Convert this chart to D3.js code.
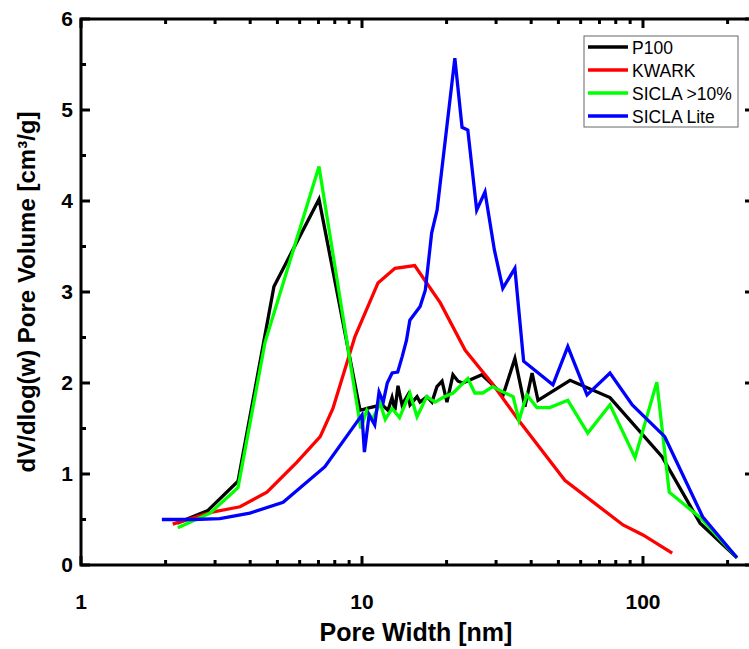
<!DOCTYPE html>
<html lang="en">
<head>
<meta charset="UTF-8">
<title>Pore size distribution</title>
<style>
  body { margin: 0; background: #fff; overflow: hidden; }
  svg { display: block; font-family: "Liberation Sans", Arial, sans-serif; }
</style>
</head>
<body>
<script src="https://d3js.org/d3.v7.min.js"></script>
<script>
  const width = 749
  const height = 649

  const seriesNames = ["P100", "KWARK", "SICLA >10%", "SICLA Lite"]
  const seriesColors = ["#000000", "#ff0000", "#00ff00", "#0000ff"]

  // [pore width nm, dV/dlog(w)]
  const p100 = [
    [2.2, 0.46], [2.83, 0.60], [3.62, 0.92], [4.86, 3.06], [7.03, 4.02],
    [9.84, 1.70], [10.67, 1.73], [11.78, 1.76], [12.38, 1.70], [12.79, 1.84],
    [13.10, 1.70], [13.43, 1.97], [13.88, 1.76], [14.57, 1.87], [14.82, 1.76],
    [15.70, 1.85], [16.08, 1.79], [17.03, 1.85], [17.74, 1.79], [18.48, 1.96],
    [19.27, 2.02], [20.06, 1.79], [21.07, 2.09], [21.97, 2.02], [22.86, 2.00],
    [26.7, 2.09], [31.8, 1.87], [35.0, 2.27], [38.0, 1.74], [40.3, 2.11],
    [42.3, 1.81], [55.0, 2.03], [76.3, 1.84], [116.9, 1.19], [159.6, 0.46],
    [216, 0.08]
  ]
  const kwark = [
    [2.12, 0.45], [2.93, 0.58], [3.68, 0.64], [4.59, 0.80], [5.87, 1.13],
    [7.1, 1.41], [7.88, 1.72], [9.44, 2.51], [11.4, 3.10], [13.1, 3.26],
    [15.4, 3.29], [19.0, 2.88], [23.3, 2.36], [29.3, 1.98], [36.5, 1.57],
    [52.7, 0.93], [84.9, 0.44], [100, 0.33], [127, 0.13]
  ]
  const sicla10 = [
    [2.21, 0.41], [2.88, 0.57], [3.62, 0.85], [4.52, 2.45], [7.03, 4.38],
    [9.9, 1.50], [10.4, 1.70], [10.9, 1.60], [11.6, 1.78], [12.1, 1.60],
    [12.8, 1.72], [13.6, 1.62], [14.8, 1.89], [15.7, 1.63], [17.0, 1.85],
    [18.2, 1.79], [19.4, 1.84], [21.1, 1.89], [23.8, 2.05], [25.2, 1.89],
    [26.9, 1.89], [29.2, 1.96], [31.8, 1.90], [34.5, 1.85], [36.2, 1.59],
    [38.6, 1.87], [41.9, 1.73], [46.6, 1.73], [54.0, 1.81], [63.6, 1.45],
    [76.3, 1.76], [93.7, 1.18], [112, 2.01], [124, 0.80], [160, 0.52],
    [216, 0.08]
  ]
  const siclaLite = [
    [1.94, 0.50], [2.5, 0.50], [3.12, 0.51], [3.99, 0.57], [5.24, 0.69],
    [7.38, 1.08], [10.0, 1.65], [10.2, 1.24], [10.6, 1.65], [11.1, 1.54],
    [11.5, 1.90], [11.9, 1.79], [12.3, 2.00], [12.8, 2.11], [13.4, 2.12],
    [13.9, 2.29], [14.4, 2.47], [14.8, 2.69], [16.1, 2.84], [16.8, 3.02],
    [17.7, 3.65], [18.5, 3.90], [21.4, 5.57], [22.7, 4.81], [23.8, 4.78],
    [25.6, 3.90], [27.4, 4.10], [29.6, 3.46], [31.7, 3.04], [35.0, 3.26],
    [37.6, 2.24], [47.8, 1.98], [54.0, 2.40], [63.2, 1.87], [76.3, 2.11],
    [91.6, 1.76], [119.5, 1.41], [163, 0.53], [216, 0.08]
  ]
  const allSeries = [p100, kwark, sicla10, siclaLite]

  const xMajor = [1, 10, 100]
  const yMajor = [0, 1, 2, 3, 4, 5, 6]

  // plot frame runs a little past the right edge of the window
  const x0 = 81, x1 = 754
  const y0 = 565, y1 = 19
  const xMax = Math.pow(10, (x1 - x0) / 281)

  const x = d3.scaleLog().domain([1, xMax]).range([x0, x1])
  const y = d3.scaleLinear().domain([0, 6]).range([y0, y1])

  const svg = d3.select("body").append("svg")
      .attr("width", width)
      .attr("height", height)

  // minor ticks
  let xMinor = []
  for (let dec = 1; dec <= 100; dec *= 10) {
    for (let k = 2; k <= 9; k++) {
      if (dec * k <= xMax) xMinor.push(dec * k)
    }
  }
  let yMinor = d3.range(0.5, 6, 1)

  const frame = svg.append("g").attr("stroke", "#000").attr("stroke-width", 3)

  // ticks point inward on all four sides
  xMajor.forEach(function(v) {
    frame.append("line").attr("x1", x(v)).attr("x2", x(v))
      .attr("y1", y0).attr("y2", y0 - 9)
    frame.append("line").attr("x1", x(v)).attr("x2", x(v))
      .attr("y1", y1).attr("y2", y1 + 9)
  })
  xMinor.forEach(function(v) {
    frame.append("line").attr("x1", x(v)).attr("x2", x(v))
      .attr("y1", y0).attr("y2", y0 - 5)
    frame.append("line").attr("x1", x(v)).attr("x2", x(v))
      .attr("y1", y1).attr("y2", y1 + 5)
  })
  yMajor.forEach(function(v) {
    frame.append("line").attr("x1", x0).attr("x2", x0 + 9)
      .attr("y1", y(v)).attr("y2", y(v))
    frame.append("line").attr("x1", x1).attr("x2", x1 - 9)
      .attr("y1", y(v)).attr("y2", y(v))
  })
  yMinor.forEach(function(v) {
    frame.append("line").attr("x1", x0).attr("x2", x0 + 5)
      .attr("y1", y(v)).attr("y2", y(v))
    frame.append("line").attr("x1", x1).attr("x2", x1 - 5)
      .attr("y1", y(v)).attr("y2", y(v))
  })

  // data lines
  const line = d3.line()
      .x(function(d) { return x(d[0]) })
      .y(function(d) { return y(d[1]) })

  allSeries.forEach(function(s, i) {
    svg.append("path")
      .datum(s)
      .attr("d", line)
      .attr("fill", "none")
      .attr("stroke", seriesColors[i])
      .attr("stroke-width", 3.3)
      .attr("stroke-linejoin", "miter")
  })

  // frame box
  svg.append("rect")
    .attr("x", x0).attr("y", y1)
    .attr("width", x1 - x0).attr("height", y0 - y1)
    .attr("fill", "none").attr("stroke", "#000").attr("stroke-width", 3)

  // tick labels
  svg.selectAll(".xl").data(xMajor).enter().append("text")
    .attr("x", function(d) { return x(d) })
    .attr("y", y0 + 44)
    .attr("text-anchor", "middle")
    .attr("font-size", 21).attr("font-weight", "bold")
    .text(function(d) { return d })

  svg.selectAll(".yl").data(yMajor).enter().append("text")
    .attr("x", x0 - 8)
    .attr("y", function(d) { return y(d) + 7 })
    .attr("text-anchor", "end")
    .attr("font-size", 21).attr("font-weight", "bold")
    .text(function(d) { return d })

  // axis titles
  svg.append("text")
    .attr("x", 416)
    .attr("y", 641)
    .attr("text-anchor", "middle")
    .attr("font-size", 25).attr("font-weight", "bold")
    .text("Pore Width [nm]")

  svg.append("text")
    .attr("transform", "translate(35," + ((y0 + y1) / 2) + ") rotate(-90)")
    .attr("text-anchor", "middle")
    .attr("font-size", 24).attr("font-weight", "bold")
    .text("dV/dlog(w) Pore Volume [cm³/g]")

  // legend
  const leg = svg.append("g").attr("transform", "translate(584,36)")
  leg.append("rect")
    .attr("width", 154).attr("height", 91)
    .attr("fill", "#fff").attr("stroke", "#666").attr("stroke-width", 1)
  seriesNames.forEach(function(name, i) {
    const ly = 11 + i * 23
    leg.append("line")
      .attr("x1", 4).attr("x2", 44)
      .attr("y1", ly).attr("y2", ly)
      .attr("stroke", seriesColors[i]).attr("stroke-width", 3.3)
    leg.append("text")
      .attr("x", 48).attr("y", ly + 6.5)
      .attr("font-size", 17.5)
      .text(name)
  })
</script>
</body>
</html>
